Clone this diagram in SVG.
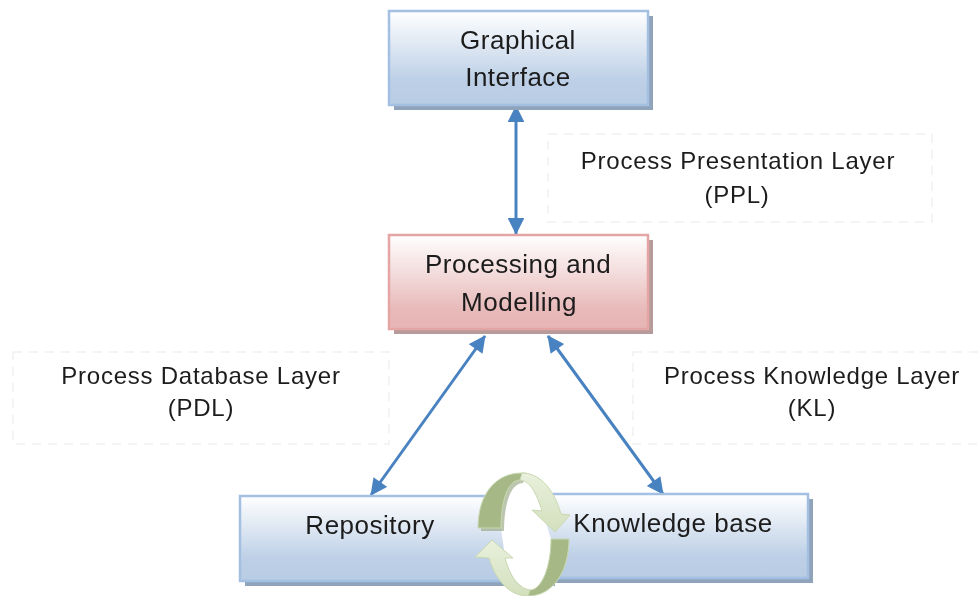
<svg xmlns="http://www.w3.org/2000/svg" width="978" height="596" viewBox="0 0 978 596">
<style>
text{font-family:"Liberation Sans",Arial,sans-serif;font-size:24px;letter-spacing:.75px;fill:#1c1c1c;text-anchor:middle}
.t{font-size:26px;letter-spacing:.5px}
.box{stroke-width:2.5}
.blue{fill:url(#bg);stroke:#a3c0e2}
.red{fill:url(#rg);stroke:#e5a5a5}
.sh{stroke:none}
.dash{fill:none;stroke:#f1f1f1;stroke-width:1.5;stroke-dasharray:9 7}
.c{stroke:#4a82c0;stroke-width:3;fill:none;marker-start:url(#a);marker-end:url(#a)}
.dk{fill:#a5b886;stroke:#c9d8b2;stroke-width:1}
.lt{fill:url(#gg);stroke:#c9d8b2;stroke-width:1}
.s{filter:url(#b)}
</style>
<defs>
<linearGradient id="bg" x1="0" y1="0" x2="0" y2="1"><stop offset="0" stop-color="#fff"/><stop offset="0.75" stop-color="#bccfe6"/><stop offset="1" stop-color="#b8cce4"/></linearGradient>
<linearGradient id="rg" x1="0" y1="0" x2="0" y2="1"><stop offset="0" stop-color="#fff"/><stop offset="0.8" stop-color="#e8b9b9"/><stop offset="1" stop-color="#e6b5b5"/></linearGradient>
<linearGradient id="gg" x1="0" y1="0" x2="0" y2="1"><stop offset="0" stop-color="#e9f0dc"/><stop offset="1" stop-color="#d3e0bd"/></linearGradient>
<marker id="a" viewBox="0 0 10 10" refX="9.5" refY="5" markerWidth="6.4" markerHeight="5.6" orient="auto-start-reverse"><path d="M0 0L10 5L0 10Z" fill="#4a82c0"/></marker>
<filter id="b" x="-5%" y="-5%" width="110%" height="110%"><feGaussianBlur stdDeviation="0.45"/></filter>
</defs>
<g id="dashed-labels" class="s">
<g id="ppl"><rect class="dash" x="548" y="134" width="384" height="88"/><text x="738" y="169">Process Presentation Layer</text><text x="737" y="203">(PPL)</text></g>
<g id="pdl"><rect class="dash" x="13" y="352" width="376" height="92"/><text x="201" y="384">Process Database Layer</text><text x="201" y="416">(PDL)</text></g>
<g id="kl"><rect class="dash" x="633" y="352" width="350" height="92"/><text x="812" y="384">Process Knowledge Layer</text><text x="812" y="416">(KL)</text></g>
</g>
<g id="connectors" class="s">
<line class="c" x1="516" y1="106" x2="516" y2="234"/>
<line class="c" x1="485" y1="336" x2="371" y2="495"/>
<line class="c" x1="548" y1="336" x2="663" y2="494"/>
</g>
<g id="graphical-interface" class="s"><rect class="sh" x="394" y="16" width="259" height="94" fill="#8fa3bb"/><rect class="box blue" x="389" y="11" width="259" height="94"/><text class="t" x="518" y="49">Graphical</text><text class="t" x="518" y="86">Interface</text></g>
<g id="processing-modelling" class="s"><rect class="sh" x="394" y="240" width="259" height="94" fill="#b79a9a"/><rect class="box red" x="389" y="235" width="259" height="94"/><text class="t" x="518" y="273">Processing and</text><text class="t" x="519" y="311">Modelling</text></g>
<g id="repository" class="s"><rect class="sh" x="245" y="501" width="310" height="85" fill="#8fa3bb"/><rect class="box blue" x="240" y="496" width="310" height="85"/><text class="t" x="370" y="534">Repository</text></g>
<g id="knowledge-base" class="s"><rect class="sh" x="520" y="499" width="293" height="84" fill="#8fa3bb"/><rect class="box blue" x="515" y="494" width="293" height="84"/><text class="t" x="673" y="532">Knowledge base</text></g>
<g id="cycle" class="s">
<path d="M501 528C501 500 508 480 520 480C530 481 536 492 542 511L551 539C551 566 542 590 530 590C518 588 510 576 505 558Z" fill="#fff"/>
<path d="M481 531C481 498 498 476 525 476L523 483C511 483 504 503 504 531Z" fill="#8f9f78" opacity=".6"/>
<path class="dk" d="M478 528C478 495 495 473 522 473L526 473L520 480C508 480 501 500 501 528Z"/>
<path class="lt" d="M522 473C538 473 553 486 561 514L570 515L555 532L532 510L542 511C536 492 530 481 520 480Z"/>
<path class="dk" d="M569 539C569 570 554 596 528 596L524 594L530 590C542 590 551 566 551 539Z"/>
<path class="lt" d="M528 596C512 596 497 584 489 558L475 557L492 540L513 558L505 558C510 576 518 588 530 590Z"/>
</g>
</svg>
